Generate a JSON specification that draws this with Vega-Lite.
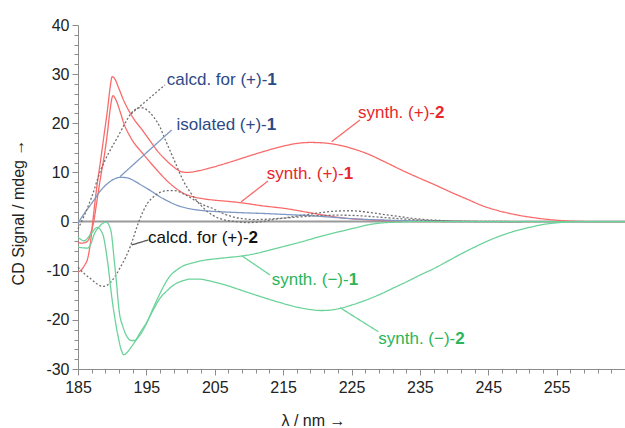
{
 "$schema": "https://vega.github.io/schema/vega-lite/v6.json",
 "width": 547, "height": 344, "autosize": "none",
 "padding": {"left": 78, "top": 25, "right": 0, "bottom": 59},
 "background": "white",
 "config": {"view": {"stroke": null}, "font": "Liberation Sans",
  "axis": {"grid": false, "domainColor": "#8c8c8c", "tickColor": "#8c8c8c", "labelColor": "#222", "labelFontSize": 16, "labelFont": "Liberation Sans", "titleFontSize": 16, "titleFontWeight": "normal", "titleColor": "#222", "titleFont": "Liberation Sans"}},
 "datasets": {
  "zero": [{"x": 185, "y": 0}, {"x": 265, "y": 0}],
  "curves": [
   {"s":"p2","x":185,"y":-10.3},{"s":"p2","x":185.5,"y":-9.8},{"s":"p2","x":186,"y":-8.8},{"s":"p2","x":186.4,"y":-7.6},{"s":"p2","x":186.8,"y":-4.5},{"s":"p2","x":187.2,"y":0.5},{"s":"p2","x":187.7,"y":6.5},{"s":"p2","x":188.3,"y":12.4},{"s":"p2","x":188.8,"y":17.5},{"s":"p2","x":189.3,"y":22.6},{"s":"p2","x":189.7,"y":27.3},{"s":"p2","x":190,"y":29.5},{"s":"p2","x":190.4,"y":29.0},{"s":"p2","x":191,"y":27.0},{"s":"p2","x":191.7,"y":24.6},{"s":"p2","x":192.5,"y":22.4},{"s":"p2","x":193.3,"y":20.6},{"s":"p2","x":194.2,"y":19.0},{"s":"p2","x":195.4,"y":16.7},{"s":"p2","x":196.6,"y":14.4},{"s":"p2","x":197.8,"y":12.6},{"s":"p2","x":199.1,"y":11.0},{"s":"p2","x":200,"y":10.2},{"s":"p2","x":201,"y":10.0},{"s":"p2","x":202.5,"y":10.3},{"s":"p2","x":204.8,"y":11.1},{"s":"p2","x":207,"y":12.0},{"s":"p2","x":209.7,"y":13.2},{"s":"p2","x":212,"y":14.2},{"s":"p2","x":214.6,"y":15.2},{"s":"p2","x":217,"y":15.9},{"s":"p2","x":219,"y":16.1},{"s":"p2","x":221,"y":16.0},{"s":"p2","x":223,"y":15.6},{"s":"p2","x":225,"y":14.9},{"s":"p2","x":227.3,"y":13.8},{"s":"p2","x":229.5,"y":12.4},{"s":"p2","x":232,"y":10.7},{"s":"p2","x":234.5,"y":9.1},{"s":"p2","x":237,"y":7.6},{"s":"p2","x":239.5,"y":6.0},{"s":"p2","x":242,"y":4.5},{"s":"p2","x":244,"y":3.3},{"s":"p2","x":246.5,"y":2.2},{"s":"p2","x":249,"y":1.4},{"s":"p2","x":251.6,"y":0.8},{"s":"p2","x":254,"y":0.4},{"s":"p2","x":257,"y":0.1},{"s":"p2","x":260,"y":0},{"s":"p2","x":265,"y":0},
   {"s":"p1","x":185,"y":-4.2},{"s":"p1","x":185.5,"y":-4.4},{"s":"p1","x":186,"y":-4.3},{"s":"p1","x":186.5,"y":-3.8},{"s":"p1","x":186.9,"y":-2.2},{"s":"p1","x":187.3,"y":0},{"s":"p1","x":187.8,"y":4.5},{"s":"p1","x":188.3,"y":9.0},{"s":"p1","x":188.8,"y":13.0},{"s":"p1","x":189.3,"y":18.0},{"s":"p1","x":189.7,"y":22.8},{"s":"p1","x":190.1,"y":25.6},{"s":"p1","x":190.6,"y":24.6},{"s":"p1","x":191.2,"y":22.2},{"s":"p1","x":191.7,"y":20.0},{"s":"p1","x":192.5,"y":17.6},{"s":"p1","x":193.3,"y":15.8},{"s":"p1","x":194.2,"y":14.3},{"s":"p1","x":195.4,"y":12.3},{"s":"p1","x":196.6,"y":10.4},{"s":"p1","x":197.8,"y":8.6},{"s":"p1","x":199.1,"y":7.0},{"s":"p1","x":200.5,"y":5.7},{"s":"p1","x":202,"y":5.0},{"s":"p1","x":203.5,"y":4.6},{"s":"p1","x":205,"y":4.35},{"s":"p1","x":207,"y":4.1},{"s":"p1","x":209,"y":3.8},{"s":"p1","x":212,"y":3.2},{"s":"p1","x":215.6,"y":2.6},{"s":"p1","x":218.5,"y":1.9},{"s":"p1","x":221.4,"y":1.2},{"s":"p1","x":224,"y":0.7},{"s":"p1","x":227,"y":0.4},{"s":"p1","x":230,"y":0.2},{"s":"p1","x":235,"y":0},{"s":"p1","x":265,"y":0},
   {"s":"iso","x":185,"y":-0.3},{"s":"iso","x":186,"y":1.8},{"s":"iso","x":187.3,"y":4.3},{"s":"iso","x":188.3,"y":6.3},{"s":"iso","x":189.3,"y":7.7},{"s":"iso","x":190.2,"y":8.6},{"s":"iso","x":191.2,"y":9.0},{"s":"iso","x":192.2,"y":8.9},{"s":"iso","x":193.2,"y":8.3},{"s":"iso","x":194.4,"y":7.3},{"s":"iso","x":195.6,"y":6.3},{"s":"iso","x":196.8,"y":5.2},{"s":"iso","x":198.1,"y":4.2},{"s":"iso","x":199.5,"y":3.3},{"s":"iso","x":201.4,"y":2.6},{"s":"iso","x":203.5,"y":2.2},{"s":"iso","x":205.8,"y":2.0},{"s":"iso","x":209,"y":1.8},{"s":"iso","x":213,"y":1.6},{"s":"iso","x":216,"y":1.4},{"s":"iso","x":219,"y":1.2},{"s":"iso","x":222,"y":0.9},{"s":"iso","x":226,"y":0.5},{"s":"iso","x":230,"y":0.3},{"s":"iso","x":235,"y":0.1},{"s":"iso","x":240,"y":0},{"s":"iso","x":265,"y":0},
   {"s":"c1","x":185,"y":-1.5},{"s":"c1","x":186,"y":1.5},{"s":"c1","x":187,"y":5.0},{"s":"c1","x":188.3,"y":10.4},{"s":"c1","x":189.5,"y":14.0},{"s":"c1","x":190.8,"y":17.2},{"s":"c1","x":192,"y":20.3},{"s":"c1","x":192.7,"y":21.9},{"s":"c1","x":193.5,"y":22.9},{"s":"c1","x":194.2,"y":23.2},{"s":"c1","x":195.2,"y":22.6},{"s":"c1","x":196.1,"y":21.2},{"s":"c1","x":197,"y":19.2},{"s":"c1","x":197.6,"y":17.2},{"s":"c1","x":198.5,"y":14.3},{"s":"c1","x":199.1,"y":12.4},{"s":"c1","x":200.4,"y":8.3},{"s":"c1","x":201.5,"y":5.8},{"s":"c1","x":202.9,"y":3.4},{"s":"c1","x":204.8,"y":1.2},{"s":"c1","x":206.5,"y":0.3},{"s":"c1","x":208,"y":0},{"s":"c1","x":210,"y":-0.2},{"s":"c1","x":212,"y":0},{"s":"c1","x":213.1,"y":0.3},{"s":"c1","x":216,"y":0.9},{"s":"c1","x":219.4,"y":1.6},{"s":"c1","x":222.4,"y":2.1},{"s":"c1","x":225,"y":2.2},{"s":"c1","x":227.3,"y":1.9},{"s":"c1","x":230,"y":1.4},{"s":"c1","x":232.1,"y":1.0},{"s":"c1","x":235,"y":0.5},{"s":"c1","x":237,"y":0.3},{"s":"c1","x":240,"y":0.1},{"s":"c1","x":245,"y":0},{"s":"c1","x":250,"y":0},
   {"s":"c2","x":185,"y":-9.3},{"s":"c2","x":186,"y":-10.7},{"s":"c2","x":186.9,"y":-11.7},{"s":"c2","x":187.8,"y":-12.7},{"s":"c2","x":188.6,"y":-13.2},{"s":"c2","x":189.2,"y":-13.0},{"s":"c2","x":189.8,"y":-12.3},{"s":"c2","x":190.5,"y":-11.0},{"s":"c2","x":191.2,"y":-9.3},{"s":"c2","x":192,"y":-7.2},{"s":"c2","x":192.7,"y":-4.9},{"s":"c2","x":193.9,"y":0},{"s":"c2","x":195.1,"y":3.6},{"s":"c2","x":196,"y":5.0},{"s":"c2","x":197.1,"y":6.0},{"s":"c2","x":198.2,"y":6.3},{"s":"c2","x":199.1,"y":6.3},{"s":"c2","x":200.5,"y":5.6},{"s":"c2","x":202,"y":4.4},{"s":"c2","x":203.5,"y":3.3},{"s":"c2","x":204.8,"y":2.6},{"s":"c2","x":206,"y":1.8},{"s":"c2","x":207.3,"y":1.1},{"s":"c2","x":209,"y":0.6},{"s":"c2","x":211,"y":0.4},{"s":"c2","x":214,"y":0.6},{"s":"c2","x":217,"y":0.9},{"s":"c2","x":220,"y":1.2},{"s":"c2","x":223,"y":1.3},{"s":"c2","x":226,"y":1.2},{"s":"c2","x":229,"y":0.9},{"s":"c2","x":232,"y":0.6},{"s":"c2","x":235,"y":0.3},{"s":"c2","x":240,"y":0.1},{"s":"c2","x":250,"y":0},
   {"s":"m2","x":185,"y":-3.2},{"s":"m2","x":185.9,"y":-3.9},{"s":"m2","x":186.9,"y":-2.5},{"s":"m2","x":187.8,"y":-1.2},{"s":"m2","x":188.6,"y":-2.5},{"s":"m2","x":189.3,"y":-7.9},{"s":"m2","x":190,"y":-16},{"s":"m2","x":190.8,"y":-22.9},{"s":"m2","x":191.3,"y":-26},{"s":"m2","x":191.7,"y":-27.1},{"s":"m2","x":192.2,"y":-26.6},{"s":"m2","x":192.8,"y":-25.5},{"s":"m2","x":193.3,"y":-24.5},{"s":"m2","x":194,"y":-22.8},{"s":"m2","x":195,"y":-20.6},{"s":"m2","x":196,"y":-18.0},{"s":"m2","x":197,"y":-15.6},{"s":"m2","x":198,"y":-14.1},{"s":"m2","x":199,"y":-12.9},{"s":"m2","x":200.2,"y":-12.1},{"s":"m2","x":201.5,"y":-11.7},{"s":"m2","x":202.7,"y":-11.7},{"s":"m2","x":204,"y":-12.0},{"s":"m2","x":205.5,"y":-12.5},{"s":"m2","x":207,"y":-13.1},{"s":"m2","x":208.5,"y":-13.8},{"s":"m2","x":210,"y":-14.5},{"s":"m2","x":212,"y":-15.4},{"s":"m2","x":214.6,"y":-16.5},{"s":"m2","x":217,"y":-17.4},{"s":"m2","x":219,"y":-17.9},{"s":"m2","x":220.5,"y":-18.1},{"s":"m2","x":222,"y":-18.0},{"s":"m2","x":223.5,"y":-17.6},{"s":"m2","x":225,"y":-17.0},{"s":"m2","x":226.5,"y":-16.3},{"s":"m2","x":228,"y":-15.5},{"s":"m2","x":229.5,"y":-14.6},{"s":"m2","x":231,"y":-13.6},{"s":"m2","x":233,"y":-12.3},{"s":"m2","x":235,"y":-10.9},{"s":"m2","x":237,"y":-9.6},{"s":"m2","x":239,"y":-8.1},{"s":"m2","x":241,"y":-6.6},{"s":"m2","x":243,"y":-5.2},{"s":"m2","x":245,"y":-3.9},{"s":"m2","x":247,"y":-2.8},{"s":"m2","x":249,"y":-1.9},{"s":"m2","x":251,"y":-1.2},{"s":"m2","x":253,"y":-0.6},{"s":"m2","x":255,"y":-0.25},{"s":"m2","x":257,"y":-0.05},{"s":"m2","x":260,"y":0},{"s":"m2","x":265,"y":0},
   {"s":"m1","x":185,"y":-5.2},{"s":"m1","x":185.5,"y":-5.3},{"s":"m1","x":186.4,"y":-5.4},{"s":"m1","x":186.9,"y":-4.5},{"s":"m1","x":187.3,"y":-2.8},{"s":"m1","x":188.2,"y":-0.9},{"s":"m1","x":189.1,"y":-0.1},{"s":"m1","x":189.8,"y":-1.8},{"s":"m1","x":190.3,"y":-7.9},{"s":"m1","x":190.6,"y":-12},{"s":"m1","x":191,"y":-18},{"s":"m1","x":191.6,"y":-21.5},{"s":"m1","x":192.2,"y":-23.5},{"s":"m1","x":192.8,"y":-24.2},{"s":"m1","x":193.3,"y":-24.2},{"s":"m1","x":194,"y":-23.2},{"s":"m1","x":195,"y":-20.8},{"s":"m1","x":196,"y":-17.6},{"s":"m1","x":197,"y":-14.6},{"s":"m1","x":198,"y":-12.0},{"s":"m1","x":198.5,"y":-11.0},{"s":"m1","x":199.5,"y":-9.8},{"s":"m1","x":200.4,"y":-9.0},{"s":"m1","x":201.5,"y":-8.5},{"s":"m1","x":203.3,"y":-7.9},{"s":"m1","x":205,"y":-7.6},{"s":"m1","x":207,"y":-7.3},{"s":"m1","x":209,"y":-7.0},{"s":"m1","x":211,"y":-6.5},{"s":"m1","x":213,"y":-5.8},{"s":"m1","x":215.6,"y":-4.9},{"s":"m1","x":217.5,"y":-4.2},{"s":"m1","x":219.5,"y":-3.4},{"s":"m1","x":221.9,"y":-2.5},{"s":"m1","x":223.4,"y":-2.0},{"s":"m1","x":225.5,"y":-1.3},{"s":"m1","x":227.3,"y":-0.7},{"s":"m1","x":229.2,"y":-0.3},{"s":"m1","x":232,"y":-0.1},{"s":"m1","x":235,"y":0},{"s":"m1","x":265,"y":0}
  ],
  "leaders": [
   {"s":"c1","x":192.75,"y":21.9,"x2":197.72,"y2":27.8},
   {"s":"iso","x":191.14,"y":9.14,"x2":198.7,"y2":18.64},
   {"s":"p2","x":222.1,"y":16.26,"x2":226.24,"y2":20.68},
   {"s":"p1","x":208.84,"y":3.99,"x2":212.79,"y2":8.26},
   {"s":"c2","x":192.85,"y":-4.76,"x2":195.28,"y2":-3.74},
   {"s":"m1","x":208.94,"y":-6.94,"x2":213.08,"y2":-10.87},
   {"s":"m2","x":223.32,"y":-17.52,"x2":228.92,"y2":-22.41}
  ],
  "labels": [
   {"s":"c1","text":"calcd. for (+)-","num":"1","x":212.69,"y":28.82},
   {"s":"iso","text":"isolated (+)-","num":"1","x":212.61,"y":19.66},
   {"s":"p2","text":"synth. (+)-","num":"2","x":237.21,"y":22.1},
   {"s":"p1","text":"synth. (+)-","num":"1","x":223.86,"y":9.69},
   {"s":"c2","text":"calcd. for (+)-","num":"2","x":209.95,"y":-3.34},
   {"s":"m1","text":"synth. (−)-","num":"1","x":224.59,"y":-11.88},
   {"s":"m2","text":"synth. (−)-","num":"2","x":240.18,"y":-23.89}
  ]
 },
 "encoding": {
  "x": {"field": "x", "type": "quantitative", "scale": {"domain": [185, 265], "nice": false, "zero": false},
   "axis": {"title": "λ / nm →", "titleX": 235, "titleY": 51, "titleAlign": "center", "titleBaseline": "middle",
    "values": [185,187,189,191,193,195,197,199,201,203,205,207,209,211,213,215,217,219,221,223,225,227,229,231,233,235,237,239,241,243,245,247,249,251,253,255,257,259,261,263,265],
    "labelExpr": "(datum.value-185)%10===0 && datum.value<260 ? (datum.value+'') : ''",
    "tickSize": {"condition": {"test": "(datum.value-185)%10===0", "value": 6}, "value": 4},
    "labelPadding": 4, "labelFlush": false}},
  "y": {"field": "y", "type": "quantitative", "scale": {"domain": [-30, 40], "nice": false, "zero": false},
   "axis": {"title": "CD Signal / mdeg →", "titleX": -60, "titleY": 187, "titleAlign": "center", "titleBaseline": "middle", "titleAngle": -90,
    "values": [-30,-28,-26,-24,-22,-20,-18,-16,-14,-12,-10,-8,-6,-4,-2,0,2,4,6,8,10,12,14,16,18,20,22,24,26,28,30,32,34,36,38,40],
    "labelExpr": "datum.value%10===0 ? (datum.value+'') : ''",
    "tickSize": {"condition": {"test": "datum.value%10===0", "value": 6}, "value": 4},
    "labelPadding": 3, "labelFlush": false}}
 },
 "layer": [
  {"data": {"name": "zero"}, "mark": {"type": "line", "color": "#9a9a9a", "strokeWidth": 2}, "encoding": {}},
  {"data": {"name": "curves"}, "mark": {"type": "line", "strokeWidth": 1.3, "interpolate": "monotone"},
   "encoding": {
    "color": {"field": "s", "type": "nominal", "legend": null, "scale": {"domain": ["p1","p2","iso","c1","c2","m1","m2"], "range": ["#F86B6B","#F86B6B","#7F99C4","#707070","#707070","#6BD39A","#6BD39A"]}},
    "strokeDash": {"field": "s", "type": "nominal", "legend": null, "scale": {"domain": ["p1","p2","iso","c1","c2","m1","m2"], "range": [[1,0],[1,0],[1,0],[2,2],[2,2],[1,0],[1,0]]}},
    "detail": {"field": "s"}}},
  {"data": {"name": "leaders"}, "mark": {"type": "rule", "strokeWidth": 1.3},
   "encoding": {
    "x2": {"field": "x2"}, "y2": {"field": "y2"},
    "color": {"field": "s", "type": "nominal", "legend": null, "scale": {"domain": ["p1","p2","iso","c1","c2","m1","m2"], "range": ["#F86B6B","#F86B6B","#7F99C4","#707070","#555555","#6BD39A","#6BD39A"]}},
    "strokeDash": {"condition": {"test": "datum.s === 'c1'", "value": [2,2]}, "value": [1,0]}}},
  {"data": {"name": "labels"}, "mark": {"type": "text", "align": "right", "baseline": "middle", "fontSize": 17, "font": "Liberation Sans"},
   "encoding": {"text": {"field": "text"},
    "color": {"field": "s", "type": "nominal", "legend": null, "scale": {"domain": ["p1","p2","iso","c1","c2","m1","m2"], "range": ["#E8262B","#E8262B","#2C4A86","#2C4A86","#111111","#2BB55A","#2BB55A"]}}}},
  {"data": {"name": "labels"}, "mark": {"type": "text", "align": "left", "baseline": "middle", "fontSize": 17, "fontWeight": "bold", "font": "Liberation Sans"},
   "encoding": {"text": {"field": "num"},
    "color": {"field": "s", "type": "nominal", "legend": null, "scale": {"domain": ["p1","p2","iso","c1","c2","m1","m2"], "range": ["#E8262B","#E8262B","#2C4A86","#2C4A86","#111111","#2BB55A","#2BB55A"]}}}}
 ],
 "resolve": {"scale": {"color": "independent"}}
}
